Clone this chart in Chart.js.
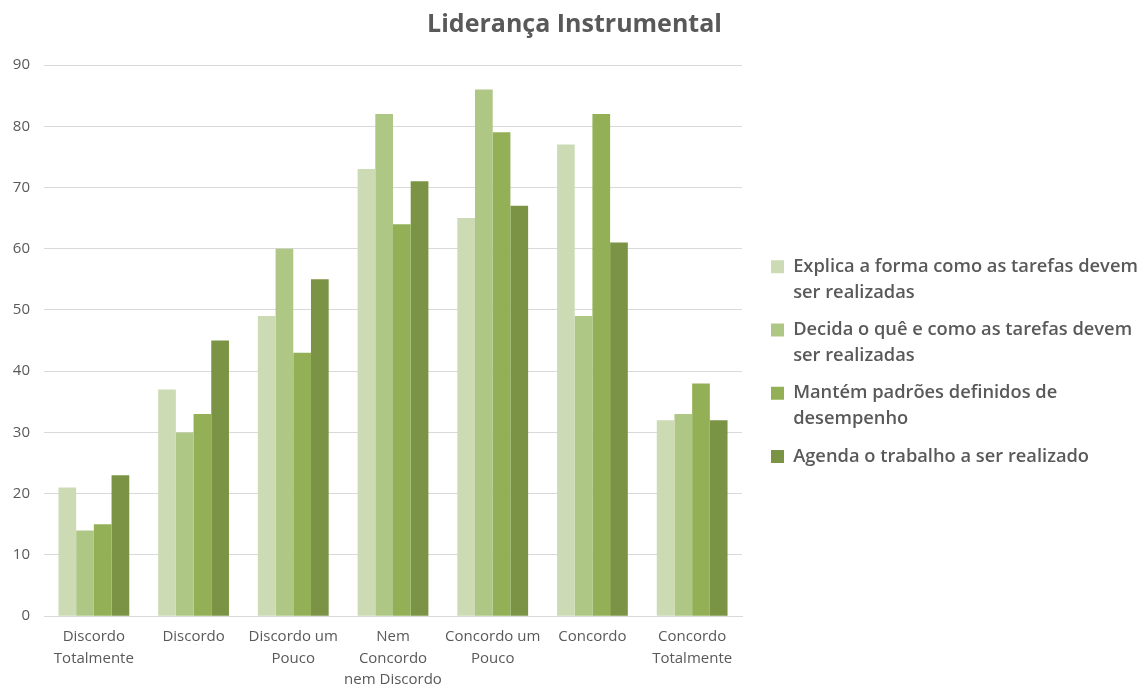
<!DOCTYPE html>
<html>
<head>
<meta charset="utf-8">
<script src="https://cdn.jsdelivr.net/npm/chart.js@4"></script>
<style>
  html, body { margin: 0; padding: 0; background: #fff; }
  #wrap { width: 1145px; height: 688px; position: relative; }
</style>
</head>
<body>
<div id="wrap"><canvas id="lid"></canvas></div>
<script>
const categories = [
  ["Discordo", "Totalmente"],
  ["Discordo"],
  ["Discordo um", "Pouco"],
  ["Nem", "Concordo", "nem Discordo"],
  ["Concordo um", "Pouco"],
  ["Concordo"],
  ["Concordo", "Totalmente"]
];
const seriesNames = [
  ["Explica a forma como as tarefas devem", "ser realizadas"],
  ["Decida o quê e como as tarefas devem", "ser realizadas"],
  ["Mantém padrões definidos de", "desempenho"],
  ["Agenda o trabalho a ser realizado"]
];
const explica = [21, 37, 49, 73, 65, 77, 32];
const decida = [14, 30, 60, 82, 86, 49, 33];
const mantem = [15, 33, 43, 64, 79, 82, 38];
const agenda = [23, 45, 55, 71, 67, 61, 32];
const colors = ["#cddbb5", "#afc785", "#93b056", "#7b9344"];

const values = [explica, decida, mantem, agenda];

// legend sits a bit right of the plot and lower, like the original
const legendShift = {
  id: "legendShift",
  afterLayout(chart) {
    chart.legend.left = chart.chartArea.right + 17;
    chart.legend.top += 12;
    chart.legend.bottom += 12;
  }
};

document.addEventListener("DOMContentLoaded", () => {
  let ctx = document.getElementById("lid").getContext("2d");
  let chart = new Chart(ctx, {
    type: "bar",
    data: {
      labels: categories,
      datasets: values.map((v, i) => ({
        label: seriesNames[i].join(" "),
        data: v,
        backgroundColor: colors[i],
        borderWidth: 0,
        barPercentage: 1,
        categoryPercentage: 0.71
      }))
    },
    options: {
      responsive: true,
      maintainAspectRatio: false,
      animation: false,
      layout: { autoPadding: false, padding: { left: 12, right: 8, top: 6, bottom: -12.5 } },
      plugins: {
        title: {
          display: true,
          text: "Liderança Instrumental",
          color: "#595959",
          font: { family: "Open Sans", size: 25, weight: "bold" },
          padding: { top: 4, bottom: 25 }
        },
        legend: {
          position: "right",
          align: "center",
          labels: {
            color: "#595959",
            font: { family: "Open Sans", size: 18.3, weight: "600", lineHeight: 1.4 },
            boxWidth: 13,
            boxHeight: 13,
            padding: 12,
            generateLabels: (c) => c.data.datasets.map((d, i) => ({
              text: seriesNames[i],
              fillStyle: colors[i],
              strokeStyle: colors[i],
              fontColor: "#595959",
              lineWidth: 0,
              hidden: false,
              datasetIndex: i
            }))
          }
        },
        tooltip: { enabled: false }
      },
      scales: {
        x: {
          grid: { display: false, drawTicks: false },
          border: { color: "#d9d9d9", width: 1 },
          ticks: {
            color: "#595959",
            font: { family: "Open Sans", size: 15, lineHeight: 1.43 },
            padding: 10,
            maxRotation: 0,
            autoSkip: false
          }
        },
        y: {
          min: 0,
          max: 90,
          ticks: {
            stepSize: 10,
            color: "#595959",
            font: { family: "Open Sans", size: 15 },
            padding: 14
          },
          grid: { color: "#d9d9d9", drawTicks: false },
          border: { display: false },
          afterFit(scale) {
            scale.width = 32;
          }
        }
      }
    },
    plugins: [legendShift]
  });
  const fit = chart.legend.fit;
  chart.legend.fit = function () {
    fit.call(this);
    this.width = 395;
  };
  chart.update();
});
</script>
</body>
</html>
